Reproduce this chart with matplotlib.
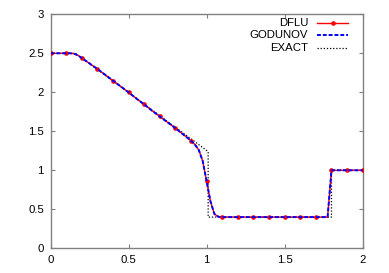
import matplotlib
matplotlib.use("Agg")
import matplotlib.pyplot as plt
from matplotlib.lines import Line2D

# DFLU numerical solution
dflu_x = [0.0, 0.05, 0.1, 0.125, 0.15, 0.175, 0.2, 0.25, 0.3, 0.35, 0.4, 0.45, 0.5,
          0.55, 0.6, 0.65, 0.7, 0.75, 0.8, 0.85, 0.875, 0.9, 0.925, 0.95, 0.975,
          1.0, 1.025, 1.05, 1.075, 1.1, 1.2, 1.3, 1.4, 1.5, 1.6, 1.7, 1.775,
          1.8, 1.9, 2.0]
dflu_u = [2.5, 2.5, 2.5, 2.5, 2.495, 2.475, 2.44, 2.37, 2.30, 2.225, 2.15, 2.075, 2.0,
          1.92, 1.845, 1.765, 1.69, 1.615, 1.54, 1.46, 1.42, 1.38, 1.33, 1.26, 1.12,
          0.86, 0.60, 0.44, 0.405, 0.40, 0.40, 0.40, 0.40, 0.40, 0.40, 0.40, 0.40,
          1.0, 1.0, 1.0]
# marker positions (every 0.1)
dflu_marks = [0.0, 0.1, 0.2, 0.3, 0.4, 0.5, 0.6, 0.7, 0.8, 0.9, 1.0,
              1.1, 1.2, 1.3, 1.4, 1.5, 1.6, 1.7, 1.8, 1.9, 2.0]

# Godunov numerical solution
god_x = [0.0, 0.05, 0.1, 0.125, 0.15, 0.175, 0.2, 0.25, 0.3, 0.35, 0.4, 0.45, 0.5,
         0.55, 0.6, 0.65, 0.7, 0.75, 0.8, 0.85, 0.875, 0.9, 0.925, 0.95, 0.975,
         1.0, 1.025, 1.05, 1.075, 1.1, 1.2, 1.3, 1.4, 1.5, 1.6, 1.7, 1.775,
         1.8, 1.9, 2.0]
god_u = [2.5, 2.5, 2.5, 2.5, 2.495, 2.475, 2.44, 2.37, 2.30, 2.225, 2.15, 2.075, 2.0,
         1.92, 1.845, 1.765, 1.69, 1.615, 1.54, 1.46, 1.42, 1.38, 1.33, 1.26, 1.12,
         0.86, 0.60, 0.44, 0.405, 0.40, 0.40, 0.40, 0.40, 0.40, 0.40, 0.40, 0.40,
         1.0, 1.0, 1.0]

# Exact solution
exact_x = [0.0, 0.16, 1.01, 1.01, 1.8, 1.8, 2.0]
exact_u = [2.5, 2.5, 1.24, 0.4, 0.4, 1.0, 1.0]

series_labels = ["DFLU", "GODUNOV", "EXACT"]

xticks = [0, 0.5, 1, 1.5, 2]
xtick_labels = ["0", "0.5", "1", "1.5", "2"]
yticks = [0, 0.5, 1, 1.5, 2, 2.5, 3]
ytick_labels = ["0", "0.5", "1", "1.5", "2", "2.5", "3"]

plt.rcParams['font.family'] = ['Liberation Sans', 'DejaVu Sans']
fs = 8.2
W, H = 389, 273

fig = plt.figure(figsize=(3.89, 2.73), dpi=100)
ax = fig.add_axes([50.5/W, 1-248.3/H, (362.7-50.5)/W, (248.3-14.3)/H])

red_style = dict(color='#ff0000', lw=1.0, marker='o', ms=2.3)
blue_style = dict(color='#0000ff', lw=1.4, ls=(0, (2.0, 1.0)))
black_style = dict(color='black', lw=0.9, ls=(0, (1, 1.5)))

mark_idx = [dflu_x.index(m) for m in dflu_marks]
ax.plot(dflu_x, dflu_u, markevery=mark_idx, zorder=3, **red_style)
ax.plot(god_x, god_u, zorder=4, **blue_style)
ax.plot(exact_x, exact_u, zorder=2, **black_style)

ax.set_xlim(0, 2)
ax.set_ylim(0, 3)
ax.set_xticks(xticks)
ax.set_xticklabels(xtick_labels)
ax.set_yticks(yticks)
ax.set_yticklabels(ytick_labels)

grey = '#808080'
for s in ax.spines.values():
    s.set_color(grey)
    s.set_linewidth(1.0)
ax.tick_params(direction='in', length=3, width=0.8, color=grey,
               top=True, right=True, labelsize=fs, labelcolor='black')
ax.tick_params(axis='x', pad=5.0)
ax.tick_params(axis='y', pad=4.8)

# gnuplot-style legend: right-aligned text followed by line sample
rows_y = [23.3, 35.0, 47.7]
styles = [red_style, blue_style, black_style]
for lab, yy, st in zip(series_labels, rows_y, styles):
    yf = 1 - yy/H
    fig.text(308/W, yf, lab, ha='right', va='center', fontsize=fs)
    st2 = dict(st)
    if 'marker' in st2:
        ln = Line2D([316.7/W, 332.5/W, 348.3/W], [yf, yf, yf], transform=fig.transFigure,
                    markevery=[1], **st2)
    else:
        ln = Line2D([316.7/W, 348.3/W], [yf, yf], transform=fig.transFigure, **st2)
    fig.add_artist(ln)

fig.savefig('out.png', dpi=100)
